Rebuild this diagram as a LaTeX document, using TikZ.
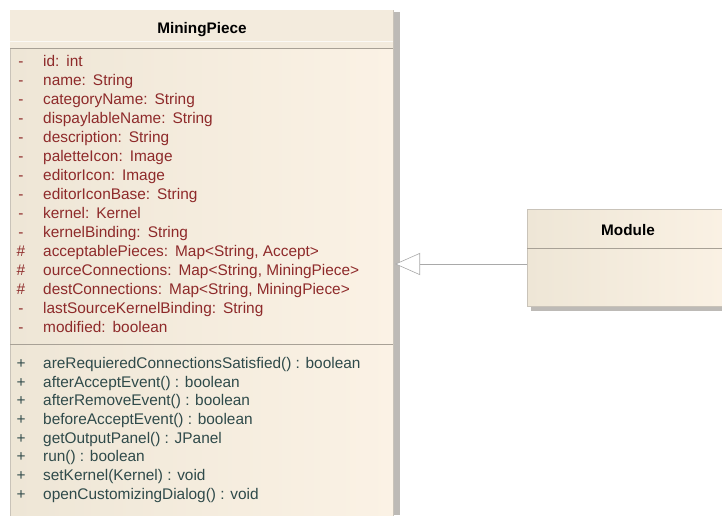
\documentclass[tikz,border=0pt]{standalone}
\usepackage{fontspec}
\setmainfont{Liberation Sans}
\usetikzlibrary{arrows.meta}
\definecolor{attrc}{HTML}{8E2A2A}
\definecolor{methc}{HTML}{2F4A4A}
\definecolor{cream}{HTML}{FBF2E5}
\definecolor{creamd}{HTML}{EEE6D6}
\definecolor{titlec}{HTML}{F3EBDD}
\definecolor{shadowc}{HTML}{BDBAB6}
\definecolor{edgec}{HTML}{C9C3B9}
\definecolor{sepc}{HTML}{A8A196}
\definecolor{linec}{HTML}{A9A9A9}
\newcommand{\gp}{\hspace{7pt}}
\tikzset{
  txt/.style={anchor=base west, inner sep=0pt, font=\fontsize{15.4}{17}\selectfont},
  attr/.style={txt, text=attrc},
  meth/.style={txt, text=methc},
  mk/.style={anchor=base, inner sep=0pt, font=\fontsize{15.4}{17}\selectfont},
  amk/.style={mk, text=attrc},
  mmk/.style={mk, text=methc},
  ttl/.style={inner sep=0pt, font=\fontsize{15.3}{17}\selectfont\bfseries, text=black},
  box/.style={draw=edgec, line width=0.5pt, anchor=north west, inner sep=0pt},
  gen/.style={draw=linec, line width=0.6pt, -{Triangle[length=25pt, width=22pt, fill=white]}}
}
\begin{document}
\begin{tikzpicture}[x=1pt,y=-1pt]
\useasboundingbox (0,0) rectangle (722,515);
\fill[white] (0,0) rectangle (722,515);
% MiningPiece class
\fill[shadowc] (393,12) rectangle (400,515);
\node[box, left color=creamd, right color=cream, minimum width=383pt, minimum height=520pt] (mp) at (10,10) {};
\fill[titlec] (10.3,10.3) rectangle (392.7,48);
\draw[white!70!titlec, line width=0.8pt] (10.3,41) -- (392.7,41);
\draw[sepc, line width=0.6pt] (10.3,48) -- (392.7,48);
\draw[sepc, line width=0.6pt] (10.3,344) -- (392.7,344);
\node[ttl] (mptitle) at (202,30) {MiningPiece};
% attributes
\node[amk] (k1)  at (21,66)  {-}; \node[attr] (a1)  at (43,66)  {id:\gp int};
\node[amk] (k2)  at (21,85)  {-}; \node[attr] (a2)  at (43,85)  {name:\gp String};
\node[amk] (k3)  at (21,104) {-}; \node[attr] (a3)  at (43,104) {categoryName:\gp String};
\node[amk] (k4)  at (21,123) {-}; \node[attr] (a4)  at (43,123) {dispaylableName:\gp String};
\node[amk] (k5)  at (21,142) {-}; \node[attr] (a5)  at (43,142) {description:\gp String};
\node[amk] (k6)  at (21,161) {-}; \node[attr] (a6)  at (43,161) {paletteIcon:\gp Image};
\node[amk] (k7)  at (21,180) {-}; \node[attr] (a7)  at (43,180) {editorIcon:\gp Image};
\node[amk] (k8)  at (21,199) {-}; \node[attr] (a8)  at (43,199) {editorIconBase:\gp String};
\node[amk] (k9)  at (21,218) {-}; \node[attr] (a9)  at (43,218) {kernel:\gp Kernel};
\node[amk] (k10) at (21,237) {-}; \node[attr] (a10) at (43,237) {kernelBinding:\gp String};
\node[amk] (k11) at (21,256) {\#}; \node[attr] (a11) at (43,256) {acceptablePieces:\gp Map<String, Accept>};
\node[amk] (k12) at (21,275) {\#}; \node[attr] (a12) at (43,275) {ourceConnections:\gp Map<String, MiningPiece>};
\node[amk] (k13) at (21,294) {\#}; \node[attr] (a13) at (43,294) {destConnections:\gp Map<String, MiningPiece>};
\node[amk] (k14) at (21,313) {-}; \node[attr] (a14) at (43,313) {lastSourceKernelBinding:\gp String};
\node[amk] (k15) at (21,332) {-}; \node[attr] (a15) at (43,332) {modified:\gp boolean};
% methods
\node[mmk] (p1) at (21,368) {+}; \node[meth] (m1) at (43,368) {areRequieredConnectionsSatisfied() : boolean};
\node[mmk] (p2) at (21,387) {+}; \node[meth] (m2) at (43,387) {afterAcceptEvent() : boolean};
\node[mmk] (p3) at (21,405) {+}; \node[meth] (m3) at (43,405) {afterRemoveEvent() : boolean};
\node[mmk] (p4) at (21,424) {+}; \node[meth] (m4) at (43,424) {beforeAcceptEvent() : boolean};
\node[mmk] (p5) at (21,443) {+}; \node[meth] (m5) at (43,443) {getOutputPanel() : JPanel};
\node[mmk] (p6) at (21,461) {+}; \node[meth] (m6) at (43,461) {run() : boolean};
\node[mmk] (p7) at (21,480) {+}; \node[meth] (m7) at (43,480) {setKernel(Kernel) : void};
\node[mmk] (p8) at (21,499) {+}; \node[meth] (m8) at (43,499) {openCustomizingDialog() : void};
% Module class
\fill[shadowc] (531,306) rectangle (730,311);
\node[box, left color=creamd, right color=cream, minimum width=210pt, minimum height=97pt] (mod) at (527,209) {};
\draw[sepc, line width=0.6pt] (527.3,248) -- (722,248);
\node[ttl] (modtitle) at (628,230) {Module};
% generalization
\coordinate (tip) at (395,264);
\draw[gen] (mod.west |- tip) -- (tip);
\end{tikzpicture}
\end{document}
